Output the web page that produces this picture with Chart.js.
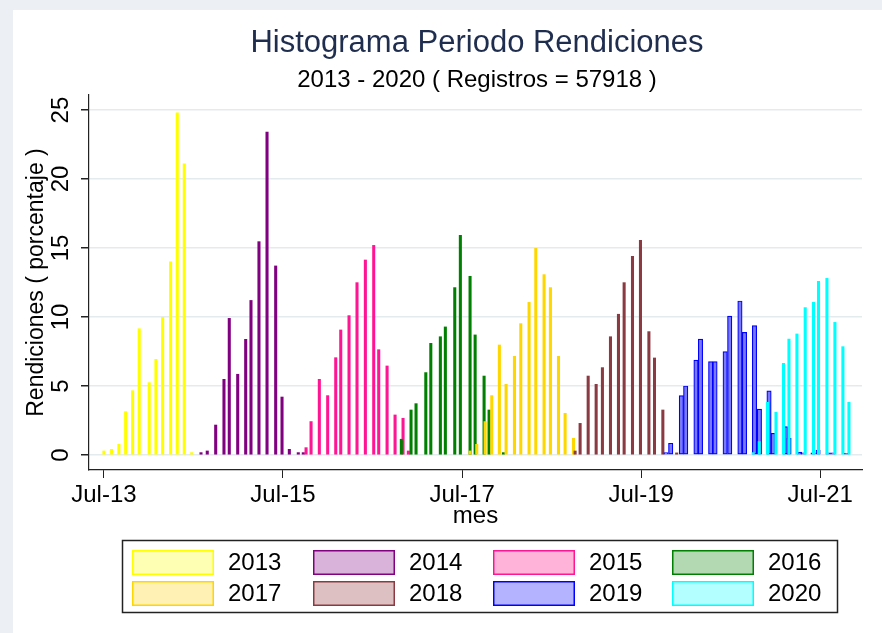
<!DOCTYPE html>
<html><head><meta charset="utf-8">
<script src="https://cdn.jsdelivr.net/npm/chart.js@4.4.1/dist/chart.umd.min.js"></script>
<style>
html,body{margin:0;padding:0;background:#eceff3;width:882px;height:633px;overflow:hidden}
#bg{position:absolute;left:13px;top:10px;right:0;bottom:0;background:#fff}
canvas{position:absolute;left:0;top:0}
</style></head><body><div id="bg"></div><canvas id="c" width="882" height="633"></canvas>
<script>
// x values: months counted from Jan-2013 (0 = Jan-13, 6 = Jul-13 ...)
const years = ['2013','2014','2015','2016','2017','2018','2019','2020'];
const mes2013 = [6.0, 7.03, 8.01, 8.91, 9.85, 10.73, 12.07, 12.97, 13.87, 14.94, 15.83, 16.77, 17.76];
const pct2013 = [0.29, 0.41, 0.77, 3.14, 4.66, 9.15, 5.24, 6.93, 9.98, 14.0, 24.8, 21.1, 0.17];
const mes2014 = [19.01, 19.85, 20.98, 22.09, 22.80, 23.93, 25.0, 25.71, 26.78, 27.86, 29.02, 29.87, 30.85, 32.05, 32.72];
const pct2014 = [0.17, 0.29, 2.17, 5.48, 9.9, 5.85, 8.38, 11.2, 15.46, 23.4, 13.7, 4.2, 0.41, 0.17, 0.17];
const mes2015 = [33.09, 33.76, 34.87, 35.99, 37.07, 37.74, 38.85, 39.92, 41.04, 42.16, 42.83, 43.95, 45.02, 46.09, 46.80];
const pct2015 = [0.53, 2.42, 5.48, 4.3, 7.05, 9.06, 10.1, 12.49, 14.13, 15.19, 7.63, 6.45, 2.9, 2.66, 0.29];
const mes2016 = [45.86, 47.16, 47.83, 49.14, 49.81, 51.09, 51.76, 53.02, 53.77, 55.07, 55.75, 56.95, 57.62, 59.54];
const pct2016 = [1.14, 3.26, 3.72, 5.97, 8.09, 8.57, 9.28, 12.13, 15.92, 12.95, 8.7, 5.72, 3.26, 0.17];
const mes2017 = [55.07, 55.97, 57.09, 57.98, 59.0, 59.90, 61.02, 61.87, 62.98, 63.88, 64.99, 65.84, 66.92, 67.81, 68.93];
const pct2017 = [0.29, 0.77, 2.42, 4.3, 7.97, 5.12, 7.15, 9.52, 11.06, 14.98, 13.07, 12.13, 7.15, 3.02, 1.21];
const mes2018 = [69.15, 69.82, 70.9, 71.97, 72.81, 73.89, 74.96, 75.72, 76.84, 77.91, 79.04, 79.79, 80.91, 82.76];
const pct2018 = [0.29, 2.29, 5.72, 5.12, 6.33, 8.57, 10.2, 12.49, 14.4, 15.56, 8.94, 7.03, 3.26, 0.15];
const mes2019 = [81.33, 81.96, 83.39, 83.97, 85.35, 85.95, 87.32, 87.9, 89.26, 89.87, 91.24, 91.85, 93.19, 93.85, 95.14, 95.7, 97.34, 97.82, 99.23, 99.73, 101.04, 101.71, 103.07, 103.68, 105.49];
const pct2019 = [0.17, 0.85, 4.3, 5.0, 6.88, 8.4, 6.76, 6.76, 7.49, 10.07, 11.16, 8.89, 9.37, 3.33, 4.64, 1.57, 2.05, 1.21, 0.2, 0.15, 0.15, 0.36, 0.15, 0.15, 0.12];
const mes2020 = [93.02, 93.83, 94.94, 96.07, 97.08, 97.81, 98.88, 99.99, 101.1, 101.77, 102.9, 103.97, 105.04, 105.85];
const pct2020 = [0.17, 0.97, 3.82, 3.1, 6.64, 8.4, 8.77, 10.68, 11.06, 12.58, 12.8, 9.61, 7.85, 3.82];

const xTickMonths = [6, 30, 54, 78, 102];
const xTickLabels = ['Jul-13', 'Jul-15', 'Jul-17', 'Jul-19', 'Jul-21'];
const yTicks = [0, 5, 10, 15, 20, 25];

const titleText = 'Histograma Periodo Rendiciones';
const subtitleText = '2013 - 2020 ( Registros = 57918 )';
const xTitle = 'mes';
const yTitle = 'Rendiciones ( porcentaje )';

const mesSeries = [mes2013, mes2014, mes2015, mes2016, mes2017, mes2018, mes2019, mes2020];
const pctSeries = [pct2013, pct2014, pct2015, pct2016, pct2017, pct2018, pct2019, pct2020];

// styles
const edgeColors = ['#ffff00', '#800080', '#ff1493', '#008000', '#ffd700', '#8b3a42', '#0000ff', '#00ffff'];
const lightColors = ['#ffffb3', '#d9b3d9', '#ffb3d9', '#b3d9b3', '#fff0b3', '#dcc0c2', '#b3b3ff', '#b3ffff'];
const FONT = '"Liberation Sans", Arial, sans-serif';

const datasets = years.map((yr, i) => {
  const wide = (yr === '2019');
  return {
    label: yr,
    data: mesSeries[i].map((m, k) => ({x: m, y: pctSeries[i][k]})),
    backgroundColor: wide ? '#7a7aff' : edgeColors[i],
    borderColor: edgeColors[i],
    borderWidth: wide ? 1.2 : 0,
    borderSkipped: false,
    barThickness: wide ? 4.4 : 2.4,
    grouped: false,
    order: years.length - 1 - i
  };
});

const decor = {
  id: 'decor',
  afterDraw(chart) {
    const ctx = chart.ctx;
    ctx.save();
    ctx.textAlign = 'center';
    ctx.textBaseline = 'alphabetic';
    ctx.fillStyle = '#1f2d4f';
    ctx.font = '31px ' + FONT;
    ctx.fillText(titleText, 477, 52);
    ctx.fillStyle = '#000';
    ctx.font = '24px ' + FONT;
    ctx.fillText(subtitleText, 477, 87);
    // legend
    ctx.lineWidth = 1.5;
    ctx.strokeStyle = '#222';
    ctx.strokeRect(122.5, 540.5, 715, 72);
    const colX = [132, 313, 493, 672];
    const rowY = [550, 581];
    ctx.textAlign = 'left';
    ctx.textBaseline = 'middle';
    ctx.font = '24px ' + FONT;
    years.forEach((yr, i) => {
      const cx = colX[i % 4], cy = rowY[Math.floor(i / 4)];
      ctx.fillStyle = lightColors[i];
      ctx.fillRect(cx, cy, 82, 25);
      ctx.strokeStyle = edgeColors[i];
      ctx.lineWidth = 1.5;
      ctx.strokeRect(cx + 0.75, cy + 0.75, 80.5, 23.5);
      ctx.fillStyle = '#000';
      ctx.fillText(yr, cx + 96, cy + 13.5);
    });
    ctx.restore();
  }
};

new Chart(document.getElementById('c'), {
  type: 'bar',
  data: { datasets },
  plugins: [decor],
  options: {
    responsive: false,
    animation: false,
    devicePixelRatio: 1,
    layout: { padding: { left: 0, top: 95, right: 20, bottom: 0 } },
    plugins: { legend: { display: false }, tooltip: { enabled: false }, title: { display: false } },
    scales: {
      x: {
        type: 'linear',
        offset: false,
        min: 4.0,
        max: 107.6,
        afterFit(s) { s.height = 163; },
        afterBuildTicks(s) { s.ticks = xTickMonths.map(v => ({value: v})); },
        ticks: {
          autoSkip: false, maxRotation: 0, minRotation: 0, padding: 3,
          color: '#000', font: { family: FONT, size: 24 },
          callback(v) { const i = xTickMonths.indexOf(v); return i >= 0 ? xTickLabels[i] : ''; }
        },
        grid: { offset: false, color: 'rgba(0,0,0,0)', tickColor: '#222', tickLength: 8, drawOnChartArea: false },
        border: { display: true, color: '#222', width: 1.2 },
        title: { display: true, text: xTitle, color: '#000', font: { family: FONT, size: 24 }, padding: { top: 0, bottom: 102 } }
      },
      y: {
        type: 'linear',
        min: -1.09,
        max: 26.09,
        afterFit(s) { s.width = 89; },
        afterBuildTicks(s) { s.ticks = yTicks.map(v => ({value: v})); },
        ticks: {
          minRotation: 90, maxRotation: 90, crossAlign: 'center', padding: 6,
          color: '#000', font: { family: FONT, size: 24 }
        },
        grid: { color: '#e4ebed', lineWidth: 1.5, tickColor: '#222', tickLength: 8 },
        border: { display: true, color: '#222', width: 1.2 },
        title: { display: true, text: yTitle, color: '#000', font: { family: FONT, size: 23 }, padding: { top: 23, bottom: 0 } }
      }
    }
  }
});
</script></body></html>
